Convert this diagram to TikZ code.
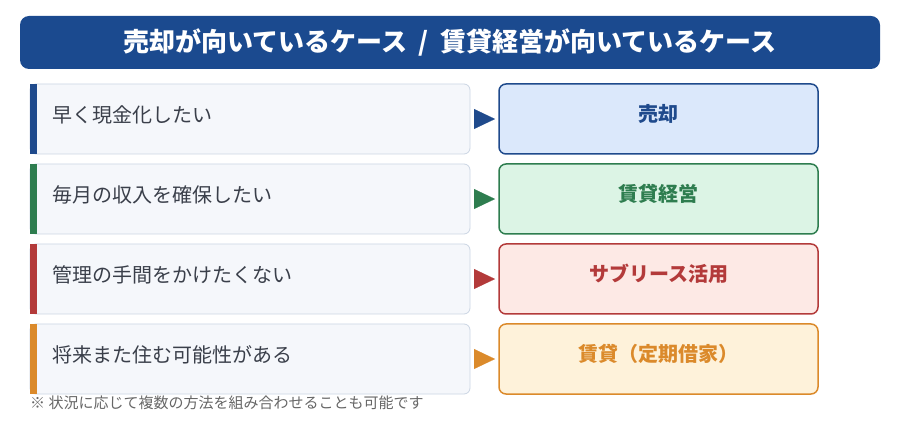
\documentclass[tikz,border=0pt]{standalone}
\usepackage{fontspec}
\setmainfont{Noto Sans CJK JP}
\usetikzlibrary{positioning,arrows.meta}

\definecolor{titleblue}{HTML}{1B4A8F}
\definecolor{needfill}{HTML}{F5F7FB}
\definecolor{needline}{HTML}{CBD5E3}
\definecolor{needgray}{HTML}{3A3F4A}
\definecolor{notegray}{HTML}{666666}
\definecolor{caseblue}{HTML}{1F4A8C}
\definecolor{casegreen}{HTML}{2E7D4F}
\definecolor{casered}{HTML}{B33A3A}
\definecolor{caseorange}{HTML}{DB8A2B}
\definecolor{fillblue}{HTML}{DBE8FB}
\definecolor{fillgreen}{HTML}{DCF4E5}
\definecolor{fillred}{HTML}{FDE9E5}
\definecolor{fillorange}{HTML}{FEF2DA}

\tikzset{
  titlebar/.style={fill=titleblue, text=white, rounded corners=9pt, minimum width=860pt,
    minimum height=53pt, inner sep=0pt, font=\bfseries\fontsize{26pt}{30pt}\selectfont},
  needbox/.style={draw=needline, fill=needfill, line width=0.8pt, rounded corners=6pt,
    minimum width=440pt, minimum height=70pt, inner sep=0pt, outer sep=0pt},
  needtext/.style={text=needgray, font=\fontsize{20pt}{24pt}\selectfont, inner sep=0pt},
  optbox/.style={line width=1.5pt, rounded corners=7pt, minimum width=319pt,
    minimum height=70pt, inner sep=0pt, outer sep=0pt},
  opttext/.style={font=\bfseries\fontsize{20pt}{24pt}\selectfont, inner sep=0pt},
  conn/.style={-{Triangle[length=21pt,width=20pt]}, line width=0.1pt,
    shorten <=4pt, shorten >=4pt}
}

\begin{document}
\begin{tikzpicture}[x=1pt, y=-1pt]
  \useasboundingbox (0,0) rectangle (900,430);

  \node[titlebar] (title) at (450,42.5)
    {売却が向いているケース\hspace{0.45em}/\hspace{0.45em}賃貸経営が向いているケース};

  % left: needs
  \node[needbox] (need1) at (250,119) {};
  \node[needbox] (need2) at (250,199) {};
  \node[needbox] (need3) at (250,279) {};
  \node[needbox] (need4) at (250,359) {};

  \fill[caseblue] (need1.north west) rectangle ([xshift=7pt]need1.south west);
  \fill[casegreen] (need2.north west) rectangle ([xshift=7pt]need2.south west);
  \fill[casered] (need3.north west) rectangle ([xshift=7pt]need3.south west);
  \fill[caseorange] (need4.north west) rectangle ([xshift=7pt]need4.south west);

  \node[needtext, right=22pt of need1.west, yshift=4pt] (need1text) {早く現金化したい};
  \node[needtext, right=22pt of need2.west, yshift=4pt] (need2text) {毎月の収入を確保したい};
  \node[needtext, right=22pt of need3.west, yshift=4pt] (need3text) {管理の手間をかけたくない};
  \node[needtext, right=22pt of need4.west, yshift=4pt] (need4text) {将来また住む可能性がある};

  % right: options
  \node[optbox, draw=caseblue, fill=fillblue] (opt1) at (658.5,119) {};
  \node[optbox, draw=casegreen, fill=fillgreen] (opt2) at (658.5,199) {};
  \node[optbox, draw=casered, fill=fillred] (opt3) at (658.5,279) {};
  \node[optbox, draw=caseorange, fill=fillorange] (opt4) at (658.5,359) {};

  \node[opttext, text=caseblue, yshift=5pt] (opt1text) at (opt1) {売却};
  \node[opttext, text=casegreen, yshift=5pt] (opt2text) at (opt2) {賃貸経営};
  \node[opttext, text=casered, yshift=5pt] (opt3text) at (opt3) {サブリース活用};
  \node[opttext, text=caseorange, yshift=5pt] (opt4text) at (opt4) {賃貸（定期借家）};

  \draw[conn, caseblue] (need1.east) -- (opt1.west);
  \draw[conn, casegreen] (need2.east) -- (opt2.west);
  \draw[conn, casered] (need3.east) -- (opt3.west);
  \draw[conn, caseorange] (need4.east) -- (opt4.west);

  \node[anchor=west, inner sep=0pt, text=notegray, font=\fontsize{15pt}{18pt}\selectfont]
    (note) at (30,403) {※ 状況に応じて複数の方法を組み合わせることも可能です};
\end{tikzpicture}
\end{document}
